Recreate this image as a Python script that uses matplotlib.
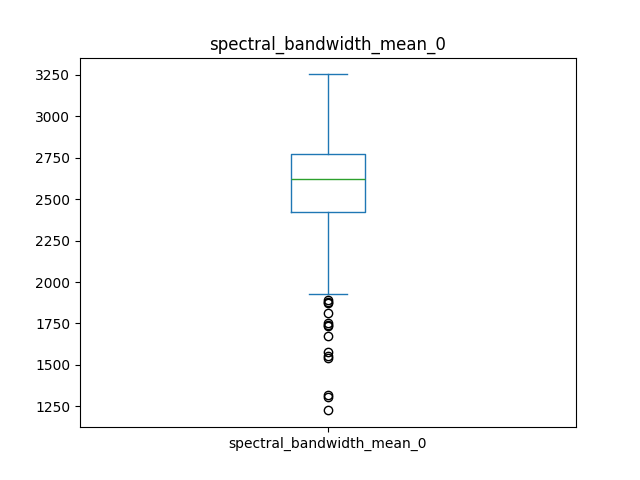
import matplotlib
matplotlib.use("Agg")
import matplotlib.pyplot as plt

label = "spectral_bandwidth_mean_0"
whislo, q1, med, q3, whishi = 1928, 2422, 2620, 2771, 3252
fliers = [1890, 1880, 1873, 1812, 1753, 1742, 1734, 1676, 1579, 1553, 1543, 1318, 1305, 1226]

fig, ax = plt.subplots(figsize=(6.4, 4.8), dpi=100)
stats = [dict(label=label, whislo=whislo, q1=q1, med=med, q3=q3, whishi=whishi, fliers=fliers)]
ax.bxp(stats,
       boxprops=dict(color="C0"),
       whiskerprops=dict(color="C0"),
       capprops=dict(color="C0"),
       medianprops=dict(color="C2"),
       flierprops=dict(marker="o", markeredgecolor="black", markerfacecolor="none"))
ax.set_title(label)
fig.savefig("out.png", dpi=100)
